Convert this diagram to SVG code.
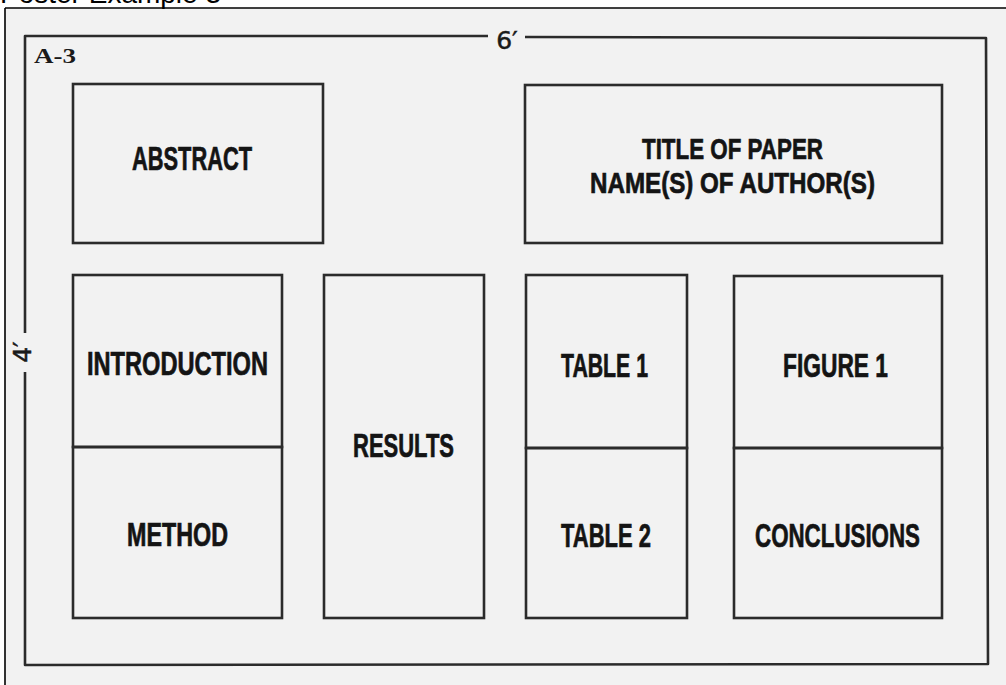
<svg xmlns="http://www.w3.org/2000/svg" width="1006" height="685" viewBox="0 0 1006 685">
<style>
.frame{fill:none;stroke:#2b2b2b;stroke-width:2.6;stroke-linejoin:round}
.box{fill:none;stroke:#2b2b2b;stroke-width:2.6}
.lbl{font-family:"Liberation Sans Narrow","Liberation Sans",Arial,sans-serif;font-weight:bold;font-size:33px;fill:#141414;stroke:#141414;stroke-width:0.7}
.ttl{font-size:30px}
.dim{font-family:"DejaVu Sans","Liberation Sans",sans-serif;font-size:25px;fill:#1a1a1a;stroke:#1a1a1a;stroke-width:0.5}
</style>
<rect x="0" y="0" width="1006" height="685" fill="#ffffff"/>
<rect x="5" y="8" width="1001" height="677" fill="#f2f2f2"/>
<line x1="5" y1="8" x2="1006" y2="8" stroke="#000" stroke-width="1.6"/>
<line x1="5" y1="8" x2="5" y2="685" stroke="#000" stroke-width="1.6"/>
<text x="0" y="3" font-family="Liberation Sans, Arial, sans-serif" font-size="28" fill="#000">Poster Example 3</text>

<g id="poster-frame">
<path class="frame" d="M488,36 L25,36 L25,333 M25,372 L25,665 L988,664 L986,38 L525,37"/>
<text class="dim" x="507" y="49" text-anchor="middle">6′</text>
<text class="dim" transform="translate(31,352) rotate(-90)" text-anchor="middle">4′</text>
<text x="34" y="63" font-family="Liberation Serif, serif" font-weight="bold" font-size="20" fill="#1a1a1a" textLength="42" lengthAdjust="spacingAndGlyphs">A-3</text>
</g>

<g id="abstract">
<rect class="box" x="73" y="84" width="250" height="159"/>
<text class="lbl" x="132" y="170" textLength="120" lengthAdjust="spacingAndGlyphs">ABSTRACT</text>
</g>

<g id="title">
<rect class="box" x="525" y="85" width="417" height="158"/>
<text class="lbl ttl" x="642" y="159" textLength="181" lengthAdjust="spacingAndGlyphs">TITLE OF PAPER</text>
<text class="lbl ttl" x="590" y="193" textLength="285" lengthAdjust="spacingAndGlyphs">NAME(S) OF AUTHOR(S)</text>
</g>

<g id="introduction">
<rect class="box" x="73" y="275" width="209" height="172"/>
<text class="lbl" x="87" y="375" textLength="181" lengthAdjust="spacingAndGlyphs">INTRODUCTION</text>
</g>

<g id="method">
<rect class="box" x="73" y="447" width="209" height="171"/>
<text class="lbl" x="127" y="546" textLength="101" lengthAdjust="spacingAndGlyphs">METHOD</text>
</g>

<g id="results">
<rect class="box" x="324" y="275" width="160" height="343"/>
<text class="lbl" x="353" y="457" textLength="101" lengthAdjust="spacingAndGlyphs">RESULTS</text>
</g>

<g id="table1">
<rect class="box" x="526" y="275" width="161" height="173"/>
<text class="lbl" x="561" y="377" textLength="87" lengthAdjust="spacingAndGlyphs">TABLE 1</text>
</g>

<g id="table2">
<rect class="box" x="526" y="448" width="161" height="170"/>
<text class="lbl" x="561" y="547" textLength="90" lengthAdjust="spacingAndGlyphs">TABLE 2</text>
</g>

<g id="figure1">
<rect class="box" x="734" y="276" width="208" height="172"/>
<text class="lbl" x="783" y="377" textLength="105" lengthAdjust="spacingAndGlyphs">FIGURE 1</text>
</g>

<g id="conclusions">
<rect class="box" x="734" y="448" width="208" height="170"/>
<text class="lbl" x="755" y="547" textLength="165" lengthAdjust="spacingAndGlyphs">CONCLUSIONS</text>
</g>

<g id="connectors"></g>
</svg>
